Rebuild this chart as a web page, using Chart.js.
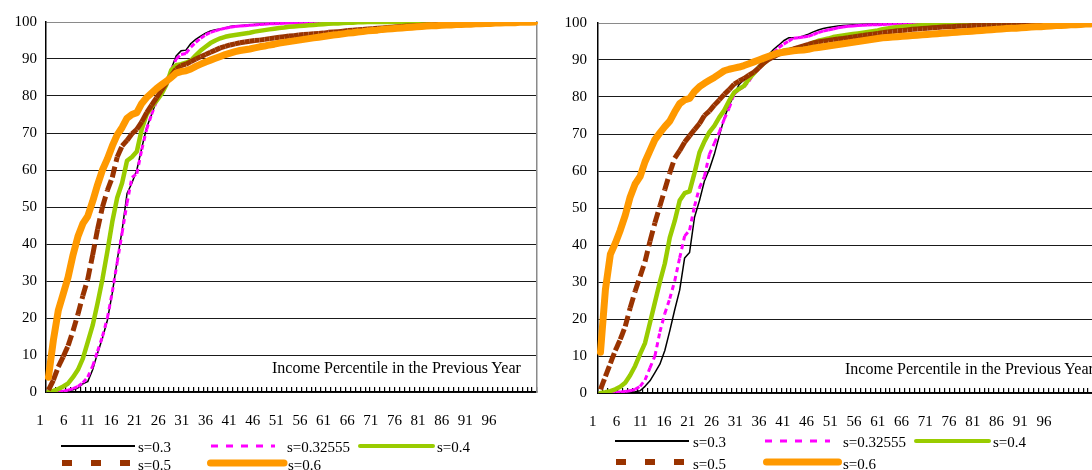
<!DOCTYPE html>
<html><head><meta charset="utf-8">
<script src="https://cdn.jsdelivr.net/npm/chart.js@4/dist/chart.umd.min.js"></script>
<style>
html,body{margin:0;padding:0;background:#fff;overflow:hidden;width:1092px;height:470px;position:relative;}
.panel{position:absolute;top:0;height:470px;}
.axis-title{position:absolute;font-family:"Liberation Serif";font-size:16px;line-height:16px;white-space:nowrap;color:#000;}
.leg{position:absolute;font-family:"Liberation Serif";font-size:15px;line-height:15px;white-space:nowrap;color:#000;}
#legsvg{position:absolute;left:0;top:0;}
</style></head><body>
<div class="panel" style="left:0;width:546px"><canvas id="c1" width="546" height="470"></canvas></div>
<div class="panel" style="left:546px;width:560px"><canvas id="c2" width="560" height="470"></canvas></div>
<svg id="legsvg" width="1092" height="470"></svg>
<div id="overlay"></div>
<script>
const categories = [1,2,3,4,5,6,7,8,9,10,11,12,13,14,15,16,17,18,19,20,21,22,23,24,25,26,27,28,29,30,31,32,33,34,35,36,37,38,39,40,41,42,43,44,45,46,47,48,49,50,51,52,53,54,55,56,57,58,59,60,61,62,63,64,65,66,67,68,69,70,71,72,73,74,75,76,77,78,79,80,81,82,83,84,85,86,87,88,89,90,91,92,93,94,95,96,97,98,99,100];
const xTickLabels = [1,6,11,16,21,26,31,36,41,46,51,56,61,66,71,76,81,86,91,96];
const seriesNames = ['s=0.3','s=0.32555','s=0.4','s=0.5','s=0.6'];
const axisTitle = 'Income Percentile in the Previous Year';

const leftS03 = [0,0,0,0.1,0.3,0.6,1.1,2.2,2.8,6,
 10.5,14.6,19.4,26.7,35.6,43.7,53.6,56.5,60,66,
 71.5,75,78.7,82,84,87.3,90.8,92.2,92.4,94.2,
 95.3,96.2,97,97.6,97.9,98.1,98.4,98.8,99,99,
 99.1,99.2,99.3,99.4,99.5,99.55,99.6,99.65,99.7,99.75,
 99.8,99.8,99.85,99.85,99.9,99.9,99.9,99.95,99.95,99.95,
 100,100,100,100,100,100,100,100,100,100,
 100,100,100,100,100,100,100,100,100,100,
 100,100,100,100,100,100,100,100,100,100,
 100,100,100,100,100,100,100,100,100,100];
const leftS032555 = [0,0,0.1,0.2,0.5,0.9,1.5,2.5,4,7,
 11,15,20,27,35,43,51,58,59,65.5,
 71,75,78.5,81.5,84,87,90,91.2,91.5,93.2,
 94.5,95.6,96.5,97.2,97.6,98,98.3,98.6,98.8,98.9,
 99,99.1,99.2,99.3,99.4,99.5,99.55,99.6,99.65,99.7,
 99.75,99.8,99.8,99.85,99.85,99.9,99.9,99.9,99.95,99.95,
 100,100,100,100,100,100,100,100,100,100,
 100,100,100,100,100,100,100,100,100,100,
 100,100,100,100,100,100,100,100,100,100,
 100,100,100,100,100,100,100,100,100,100];
const leftS04 = [0,0.3,0.8,1.5,2.3,4,6,9,13.5,18,
 24,30.5,38,46,52.5,56.5,62.5,63.5,65,71,
 75,77,78.7,80.5,83,87,88.3,88.6,89,89.6,
 91,92.3,93.3,94.3,95,95.6,96,96.3,96.5,96.7,
 96.9,97.1,97.4,97.6,97.8,98,98.2,98.4,98.5,98.7,
 98.8,98.9,99,99.1,99.2,99.3,99.4,99.5,99.6,99.6,
 99.7,99.8,99.8,99.9,99.9,100,100,100,100,100,
 100,100,100,100,100,100,100,100,100,100,
 100,100,100,100,100,100,100,100,100,100,
 100,100,100,100,100,100,100,100,100,100];
const leftS05 = [0.5,3.2,6.8,9.5,12.5,16.5,21,26,30.5,37,
 44,50,54.5,58,63.5,66.5,68,69.8,71,73,
 75.5,77.5,79.5,81.5,83.5,85.5,87.3,88.2,88.6,89.3,
 90,90.6,91.2,91.8,92.4,93,93.4,93.8,94.1,94.4,
 94.6,94.8,95,95.1,95.3,95.5,95.7,95.9,96,96.2,
 96.3,96.5,96.6,96.7,96.8,96.9,97,97.2,97.3,97.4,
 97.5,97.7,97.8,97.9,98,98.1,98.2,98.3,98.4,98.5,
 98.6,98.7,98.8,98.9,98.9,99,99.1,99.2,99.2,99.3,
 99.3,99.4,99.4,99.5,99.5,99.6,99.6,99.7,99.7,99.8,
 99.8,99.8,99.9,99.9,99.9,99.9,100,100,100,100];
const leftS06 = [4,14,22,26.5,31,37,42,45.5,47.5,51.5,
 56,60,63,66.5,69.5,71.5,74,75,75.5,78,
 79.6,80.8,82,83,84,85,86.2,86.6,86.8,87.3,
 88,88.6,89.2,89.7,90.2,90.7,91.2,91.6,92,92.3,
 92.5,92.7,93,93.3,93.5,93.8,94,94.3,94.5,94.7,
 94.9,95.1,95.3,95.5,95.7,95.9,96.1,96.3,96.5,96.6,
 96.8,97,97.1,97.3,97.4,97.6,97.7,97.8,98,98.1,
 98.2,98.3,98.4,98.5,98.6,98.7,98.8,98.9,99,99,
 99.1,99.2,99.2,99.3,99.3,99.4,99.4,99.5,99.5,99.6,
 99.6,99.7,99.7,99.8,99.8,99.8,99.9,99.9,99.9,100];

const rightS03 = [0,0,0,0,0,0.1,0.2,0.35,0.6,1.8,
 3.3,5.5,7.8,11.5,16.8,22.5,27.8,36.5,38,47.5,
 52,57.3,60.5,64.5,69.5,74.3,77.8,80.5,83.4,84.7,
 85.4,87,88.5,90.1,91.5,92.9,94,95.2,96,96,
 96.1,96.5,97,97.6,98.1,98.5,98.8,99,99.2,99.3,
 99.4,99.5,99.55,99.6,99.65,99.7,99.7,99.75,99.8,99.8,
 99.85,99.85,99.9,99.9,99.9,99.95,99.95,99.95,100,100,
 100,100,100,100,100,100,100,100,100,100,
 100,100,100,100,100,100,100,100,100,100,
 100,100,100,100,100,100,100,100,100,100];
const rightS032555 = [0,0,0.1,0.2,0.3,0.4,0.6,1,1.8,3.5,
 6.8,10,16.5,21.5,25.5,30.3,36.5,42.4,44,50.5,
 55.5,58.5,64.5,67.5,70.5,74,77,80.8,82,82.8,
 84.3,86.4,87.5,89.5,90.8,92,93.3,94.3,95.1,95.9,
 96,96.2,96.4,96.9,97.4,97.8,98.1,98.4,98.7,98.9,
 99.1,99.2,99.3,99.4,99.45,99.5,99.55,99.6,99.65,99.7,
 99.75,99.8,99.8,99.85,99.85,99.9,99.9,99.95,99.95,100,
 100,100,100,100,100,100,100,100,100,100,
 100,100,100,100,100,100,100,100,100,100,
 100,100,100,100,100,100,100,100,100,100];
const rightS04 = [0,0.2,0.5,1,1.7,2.8,4.8,7.3,10.5,13.5,
 19,24.5,30,35,42,46.5,52,54,54.5,59.5,
 65,68,70.5,72.2,74.5,76.4,79,81.2,82.2,83,
 84.9,86.4,88,89.2,90.3,91,91.8,92.6,92.8,93,
 93.3,93.6,94.1,94.7,95.2,95.5,95.8,96.2,96.4,96.6,
 96.8,97,97.2,97.4,97.6,97.8,98,98.3,98.5,98.7,
 98.9,99,99.1,99.2,99.3,99.4,99.5,99.6,99.7,99.75,
 99.8,99.85,99.9,99.9,99.95,100,100,100,100,100,
 100,100,100,100,100,100,100,100,100,100,
 100,100,100,100,100,100,100,100,100,100];
const rightS05 = [1,4.5,8,11.5,14.5,18,23,27.5,31.5,35.5,
 41,46,50.5,55,59.5,63.5,65.5,67.8,69.5,71.2,
 72.8,75,76.2,77.8,79.2,80.7,82,83.5,84.3,85,
 85.9,86.7,87.9,89.2,90.2,90.9,91.6,92.1,92.5,93,
 93.4,93.8,94.2,94.6,94.9,95.1,95.3,95.5,95.7,95.8,
 96,96.2,96.4,96.6,96.8,97,97.2,97.4,97.6,97.7,
 97.9,98,98.1,98.3,98.4,98.5,98.6,98.7,98.8,98.9,
 99,99,99.1,99.2,99.2,99.3,99.3,99.4,99.5,99.5,
 99.5,99.6,99.6,99.7,99.7,99.7,99.8,99.8,99.8,99.8,
 99.9,99.9,99.9,99.9,99.9,100,100,100,100,100];
const rightS06 = [11,28,37.5,40.5,44,48,53,56.5,58.5,62.5,
 65.5,68.5,70.3,72,73.5,76,78.2,79.2,79.6,81.5,
 82.8,83.7,84.5,85.3,86.2,87.1,87.5,87.8,88.1,88.5,
 89,89.5,90,90.5,91,91.5,91.9,92.1,92.3,92.5,
 92.6,92.7,92.9,93.2,93.4,93.6,93.8,94,94.2,94.4,
 94.6,94.8,95,95.2,95.4,95.6,95.8,96,96.1,96.2,
 96.3,96.4,96.5,96.6,96.7,96.8,96.9,97,97.1,97.2,
 97.3,97.4,97.5,97.6,97.7,97.8,97.9,98,98.1,98.2,
 98.3,98.4,98.5,98.6,98.6,98.7,98.8,98.9,99,99,
 99.1,99.2,99.3,99.3,99.4,99.5,99.5,99.6,99.7,99.7];

/* styles (kept apart from the data) */
const seriesColors = ['#000000','#FF00FF','#99CC00','#993300','#FF9900'];
const seriesWidths = [1.5,3,4.5,5,7];
const seriesDashes = [[],[5,4],[],[11,5],[]];
const FONT = 'Liberation Serif';

function buildChart(canvasId, series, L) {
  const datasets = series.map((vals, k) => {
    const dashed = seriesDashes[k].length > 0;
    const ds = {
      label: seriesNames[k], data: vals,
      borderColor: seriesColors[k], backgroundColor: seriesColors[k],
      borderWidth: seriesWidths[k], borderDash: seriesDashes[k],
      borderCapStyle: dashed ? 'butt' : 'round', borderJoinStyle: 'round',
      pointRadius: 0, pointHoverRadius: 0, fill: false, tension: 0,
      order: 5 - k, xAxisID: 'x', yAxisID: 'y'
    };
    if (dashed) {
      // restart the dash pattern on every segment, like the original rendering
      ds.segment = { borderDashOffset: c => (c.p0DataIndex % 2) ? 0.0001 : 0 };
    }
    return ds;
  });
  return new Chart(document.getElementById(canvasId), {
    type: 'line',
    data: { labels: categories, datasets },
    options: {
      responsive: false, animation: false, events: [],
      layout: { padding: { left: L.padLeft, right: L.padRight, top: L.top, bottom: 0 } },
      plugins: { legend: { display: false }, tooltip: { enabled: false }, title: { display: false } },
      scales: {
        x: {
          type: 'category', position: 'bottom', offset: true,
          grid: { offset: true, drawOnChartArea: false, drawTicks: true, tickLength: -5, color: '#000', lineWidth: 1.2 },
          border: { display: true, color: '#000', width: 1.5 },
          ticks: { display: false },
          afterFit: s => { s.height = 0; }
        },
        xl: {
          type: 'linear', position: 'bottom', min: L.lblMin, max: L.lblMax,
          grid: { display: false, drawTicks: false },
          border: { display: false },
          ticks: { autoSkip: false, maxRotation: 0, padding: L.xPad, color: '#000', font: { family: FONT, size: 15 } },
          afterBuildTicks: s => { s.ticks = xTickLabels.map(v => ({ value: v })); },
          afterFit: s => { s.height = 470 - L.bottom; }
        },
        y: {
          type: 'linear', position: 'left', min: 0, max: 100,
          ticks: { stepSize: 10, padding: L.yPad, color: '#000', font: { family: FONT, size: 15 } },
          grid: { color: c => (c.tick && c.tick.value === 100) ? '#8a8a8a' : '#1a1a1a', lineWidth: 1, drawTicks: false },
          border: { display: true, color: '#000', width: 1.5 },
          afterFit: s => { s.width = L.yWidth; }
        },
        yr: {
          type: 'linear', position: 'right', min: 0, max: 100,
          ticks: { display: false }, grid: { display: false, drawTicks: false },
          border: { display: true, color: '#8a8a8a', width: 1.5 },
          afterFit: s => { s.width = 0; }
        }
      }
    }
  });
}

buildChart('c1', [leftS03, leftS032555, leftS04, leftS05, leftS06],
  { padLeft: 0, padRight: 9, top: 22, bottom: 392, yWidth: 46, yPad: 9, xPad: 20, lblMin: 2.2695, lblMax: 106.156 });
buildChart('c2', [rightS03, rightS032555, rightS04, rightS05, rightS06],
  { padLeft: 0, padRight: 13, top: 23, bottom: 393, yWidth: 52, yPad: 11, xPad: 20, lblMin: 2.116, lblMax: 106.33 });

/* axis titles placed inside the plots, and the two legends */
const overlay = document.getElementById('overlay');
function addText(cls, txt, x, y) {
  const d = document.createElement('div');
  d.className = cls; d.textContent = txt;
  d.style.left = x + 'px'; d.style.top = y + 'px';
  overlay.appendChild(d);
}
addText('axis-title', axisTitle, 272, 359.5);
addText('axis-title', axisTitle, 845, 360.5);

const svg = document.getElementById('legsvg');
const NS = 'http://www.w3.org/2000/svg';
const legendDash = ['', '7 8', '', '10 19', ''];
const legendWidth = [2, 3, 4, 6, 7];
const legendCap = ['butt', 'butt', 'round', 'butt', 'round'];
function legendItem(k, x1, x2, y, tx, ty) {
  const ln = document.createElementNS(NS, 'line');
  ln.setAttribute('x1', x1); ln.setAttribute('x2', x2);
  ln.setAttribute('y1', y); ln.setAttribute('y2', y);
  ln.setAttribute('stroke', seriesColors[k]);
  ln.setAttribute('stroke-width', legendWidth[k]);
  ln.setAttribute('stroke-linecap', legendCap[k]);
  if (legendDash[k]) ln.setAttribute('stroke-dasharray', legendDash[k]);
  svg.appendChild(ln);
  addText('leg', seriesNames[k], tx, ty);
}
// left legend
legendItem(0, 61, 135, 446, 138, 440);
legendItem(1, 211, 275, 446, 287, 440);
legendItem(2, 360, 433, 446, 437, 440);
legendItem(3, 62, 130, 463, 138, 457.5);
legendItem(4, 210.5, 284, 463, 288, 457.5);
// right legend
legendItem(0, 615, 689, 441, 693, 435);
legendItem(1, 765, 830, 441, 843, 435);
legendItem(2, 916, 989, 441, 993, 435);
legendItem(3, 616, 684, 462, 693, 456.5);
legendItem(4, 766.5, 838.5, 462, 843, 456.5);
</script>
</body></html>
